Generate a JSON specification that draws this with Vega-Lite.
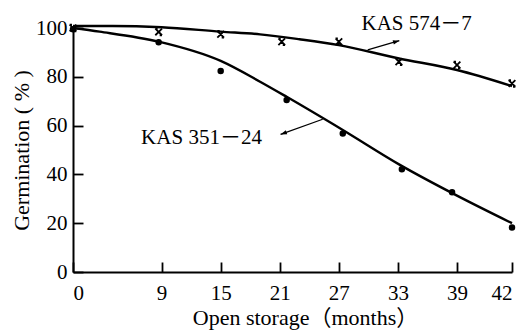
{
  "$schema": "https://vega.github.io/schema/vega-lite/v6.json",
  "width": 439,
  "height": 244,
  "autosize": "none",
  "padding": {"left": 73, "top": 28, "right": 6, "bottom": 59},
  "background": "white",
  "config": {
    "view": {"stroke": null},
    "font": "Liberation Serif, Noto Sans CJK JP",
    "axis": {
      "domainColor": "black",
      "domainWidth": 2,
      "tickColor": "black",
      "tickWidth": 1.8,
      "labelColor": "black",
      "titleColor": "black",
      "labelFont": "Liberation Serif",
      "titleFont": "Liberation Serif, Noto Sans CJK JP",
      "labelFontSize": 21,
      "titleFontSize": 22,
      "titleFontWeight": "normal",
      "grid": false
    }
  },
  "datasets": {
    "curves": [
      {"series": "KAS 574-7", "month": 0, "pct": 100.8},
      {"series": "KAS 574-7", "month": 4, "pct": 100.8},
      {"series": "KAS 574-7", "month": 9, "pct": 100.3},
      {"series": "KAS 574-7", "month": 15, "pct": 98.5},
      {"series": "KAS 574-7", "month": 19, "pct": 97.4},
      {"series": "KAS 574-7", "month": 23, "pct": 95.4},
      {"series": "KAS 574-7", "month": 27, "pct": 93.0},
      {"series": "KAS 574-7", "month": 33, "pct": 87.6},
      {"series": "KAS 574-7", "month": 39, "pct": 82.8},
      {"series": "KAS 574-7", "month": 42, "pct": 76.2},
      {"series": "KAS 351-24", "month": 0, "pct": 100.0},
      {"series": "KAS 351-24", "month": 2.7, "pct": 98.5},
      {"series": "KAS 351-24", "month": 8.7, "pct": 94.4},
      {"series": "KAS 351-24", "month": 15, "pct": 86.5},
      {"series": "KAS 351-24", "month": 19, "pct": 78.0},
      {"series": "KAS 351-24", "month": 21.7, "pct": 71.8},
      {"series": "KAS 351-24", "month": 27.4, "pct": 58.2},
      {"series": "KAS 351-24", "month": 33.2, "pct": 43.9},
      {"series": "KAS 351-24", "month": 39, "pct": 31.3},
      {"series": "KAS 351-24", "month": 42, "pct": 20.0}
    ],
    "obs": [
      {"series": "KAS 574-7", "month": 0, "pct": 100.0},
      {"series": "KAS 574-7", "month": 8.7, "pct": 98.4},
      {"series": "KAS 574-7", "month": 15, "pct": 97.4},
      {"series": "KAS 574-7", "month": 21.2, "pct": 94.4},
      {"series": "KAS 574-7", "month": 27, "pct": 94.4},
      {"series": "KAS 574-7", "month": 33.1, "pct": 86.2},
      {"series": "KAS 574-7", "month": 39, "pct": 84.8},
      {"series": "KAS 574-7", "month": 42, "pct": 77.3},
      {"series": "KAS 351-24", "month": 0, "pct": 99.5},
      {"series": "KAS 351-24", "month": 8.7, "pct": 94.2},
      {"series": "KAS 351-24", "month": 15, "pct": 82.4},
      {"series": "KAS 351-24", "month": 21.7, "pct": 70.5},
      {"series": "KAS 351-24", "month": 27.4, "pct": 56.8},
      {"series": "KAS 351-24", "month": 33.4, "pct": 42.1},
      {"series": "KAS 351-24", "month": 38.5, "pct": 32.7},
      {"series": "KAS 351-24", "month": 42, "pct": 18.2}
    ],
    "labels": [
      {"label": "KAS 574－7", "month": 34.9, "pct": 101.6},
      {"label": "KAS 351－24", "month": 13.05, "pct": 55.1}
    ],
    "arrows": [
      {"id": "a574", "month": 29.93, "pct": 91.0, "month2": 33.14, "pct2": 94.8},
      {"id": "a351", "month": 25.36, "pct": 62.6, "month2": 21.08, "pct2": 56.4}
    ]
  },
  "layer": [
    {
      "data": {"name": "curves"},
      "mark": {"type": "line", "color": "black", "strokeWidth": 2.4, "interpolate": "monotone"},
      "encoding": {
        "x": {
          "field": "month", "type": "quantitative",
          "scale": {"domain": [0, 39, 42], "range": [0, 384, 439], "nice": false, "zero": false},
          "axis": {
            "values": [0, 9, 15, 21, 27, 33, 39, 42],
            "tickSize": -10,
            "labelPadding": 20,
            "title": "Open storage（months）",
            "titlePadding": 4,
            "titleX": 232,
            "labelFlush": true
          }
        },
        "y": {
          "field": "pct", "type": "quantitative",
          "scale": {"domain": [0, 100], "nice": false},
          "axis": {
            "values": [0, 20, 40, 60, 80, 100],
            "tickSize": -10,
            "labelPadding": 16,
            "title": "Germination ( % )",
            "titlePadding": 2
          }
        },
        "detail": {"field": "series"}
      }
    },
    {
      "data": {"name": "obs"},
      "mark": {"type": "point", "filled": true, "fill": "black", "stroke": "black", "strokeWidth": 1.8, "opacity": 1},
      "encoding": {
        "x": {"field": "month", "type": "quantitative"},
        "y": {"field": "pct", "type": "quantitative"},
        "shape": {
          "field": "series", "type": "nominal",
          "scale": {"domain": ["KAS 574-7", "KAS 351-24"], "range": ["M-1,-1L1,1M1,-1L-1,1M-1,-1L-0.3,-1M0.3,1L1,1", "circle"]},
          "legend": null
        },
        "size": {
          "field": "series", "type": "nominal",
          "scale": {"domain": ["KAS 574-7", "KAS 351-24"], "range": [45, 22]},
          "legend": null
        }
      }
    },
    {
      "data": {"name": "arrows"},
      "mark": {"type": "rule", "color": "black", "strokeWidth": 1.3},
      "encoding": {
        "x": {"field": "month", "type": "quantitative"},
        "y": {"field": "pct", "type": "quantitative"},
        "x2": {"field": "month2"},
        "y2": {"field": "pct2"}
      }
    },
    {
      "data": {"name": "arrows"},
      "transform": [{"filter": "datum.id === 'a574'"}],
      "mark": {"type": "point", "shape": "M0,0L-2,-0.7L-2,0.7Z", "filled": true, "fill": "black", "size": 40, "angle": 343.6, "opacity": 1},
      "encoding": {
        "x": {"field": "month2", "type": "quantitative"},
        "y": {"field": "pct2", "type": "quantitative"}
      }
    },
    {
      "data": {"name": "arrows"},
      "transform": [{"filter": "datum.id === 'a351'"}],
      "mark": {"type": "point", "shape": "M0,0L-2,-0.7L-2,0.7Z", "filled": true, "fill": "black", "size": 40, "angle": 160.3, "opacity": 1},
      "encoding": {
        "x": {"field": "month2", "type": "quantitative"},
        "y": {"field": "pct2", "type": "quantitative"}
      }
    },
    {
      "data": {"name": "labels"},
      "mark": {"type": "text", "font": "Liberation Serif, Noto Sans CJK JP", "fontSize": 21, "color": "black", "align": "center", "baseline": "middle"},
      "encoding": {
        "x": {"field": "month", "type": "quantitative"},
        "y": {"field": "pct", "type": "quantitative"},
        "text": {"field": "label"}
      }
    }
  ]
}
